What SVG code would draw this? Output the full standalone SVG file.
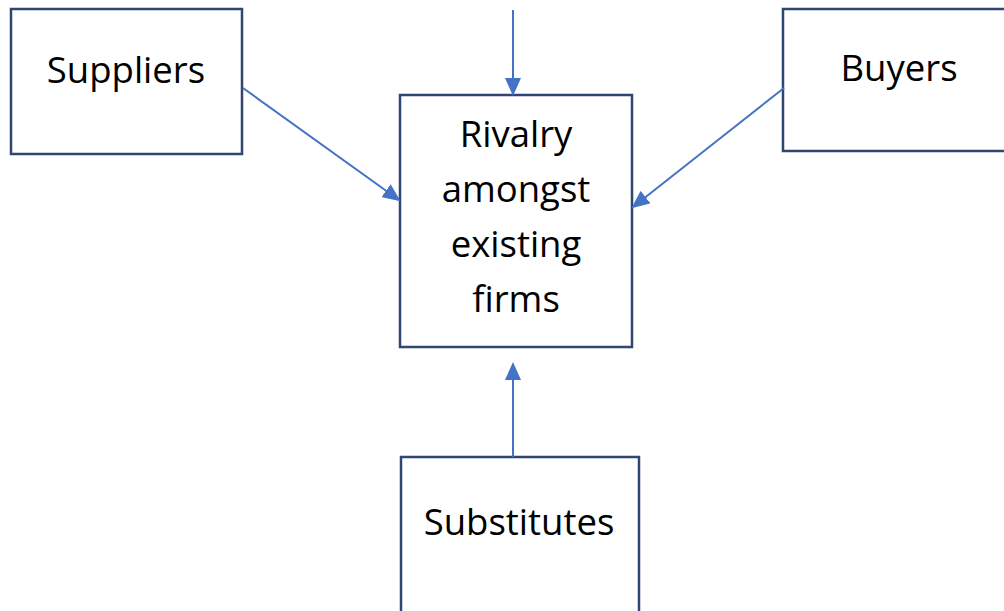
<svg xmlns="http://www.w3.org/2000/svg" width="1004" height="611" viewBox="0 0 1004 611">
<style>
.box{fill:#fff;stroke:#2F4673;stroke-width:2.5}
.lbl{font-family:"Open Sans","Liberation Sans",sans-serif;font-size:36.5px;fill:#000;text-anchor:middle}
.con{stroke:#4472C4;stroke-width:2;fill:none;marker-end:url(#ah)}
</style>
<defs>
<marker id="ah" markerWidth="9" markerHeight="8" refX="8" refY="4" orient="auto" markerUnits="strokeWidth">
<path d="M0,0 L9,4 L0,8 Z" fill="#4472C4"/>
</marker>
</defs>
<rect width="1004" height="611" fill="#fff"/>
<g id="suppliers"><rect class="box" x="11" y="9" width="231" height="145"/><text class="lbl" x="126" y="83">Suppliers</text></g>
<g id="rivalry"><rect class="box" x="400" y="95" width="232" height="252"/>
<text class="lbl" x="516" y="147">Rivalry</text>
<text class="lbl" x="516" y="202">amongst</text>
<text class="lbl" x="516" y="257">existing</text>
<text class="lbl" x="516" y="312">firms</text></g>
<g id="buyers"><rect class="box" x="783" y="9" width="240" height="142"/><text class="lbl" x="899" y="81">Buyers</text></g>
<g id="substitutes"><rect class="box" x="401" y="457" width="238" height="170"/><text class="lbl" x="519" y="535">Substitutes</text></g>
<g id="connectors">
<line class="con" x1="513" y1="10" x2="513" y2="94"/>
<line class="con" x1="243" y1="88" x2="399" y2="200"/>
<line class="con" x1="784" y1="88" x2="633" y2="207"/>
<line class="con" x1="513" y1="457" x2="513" y2="364"/>
</g>
</svg>
